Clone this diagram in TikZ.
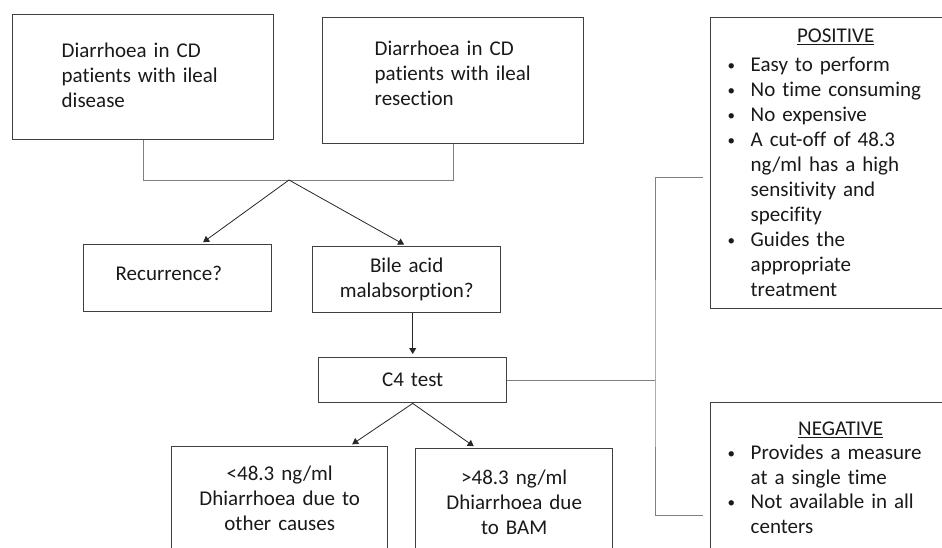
\documentclass[tikz,border=0pt]{standalone}
\usepackage{fontspec}
\setmainfont{Carlito}[Ligatures=NoCommon]
\usetikzlibrary{arrows.meta}
\newcommand{\bul}{\makebox[23pt][l]{\raisebox{1.5pt}{\fontsize{15pt}{15pt}\selectfont\textbullet}}}
\newcommand{\ind}{\hspace*{23pt}}

\begin{document}
\begin{tikzpicture}[x=1pt,y=-1pt,
  box/.style={draw=black!75,line width=1.4pt,inner ysep=0pt,anchor=north west,text=black!90,font=\fontsize{21pt}{25pt}\selectfont},
  conn/.style={draw=black!50,line width=0.8pt},
  arr/.style={draw=black!85,line width=0.8pt,-{Triangle[width=7pt,length=6pt]},shorten >=3pt}]
  \clip (0,0) rectangle (942,547);
  %top
  \node[box,minimum width=261pt,minimum height=125pt,text width=163pt,inner xsep=49pt,align=left,text height=15pt,text depth=55pt] (ill) at (12,14) {Diarrhoea in CD\\patients with ileal\\disease};
  \node[box,minimum width=261pt,minimum height=126pt,text width=157pt,inner xsep=52pt,align=left,text height=15pt,text depth=65pt] (res) at (322,17) {Diarrhoea in CD\\patients with ileal\\resection};
  \coordinate (top) at (289,180);
  \draw[conn] (ill.south) |- (res.south |- top) -- (res.south);
  %middle
  \node[box,minimum width=188pt,minimum height=67pt,text width=124pt,inner xsep=32pt,align=left,text height=15pt,text depth=10pt] (rec) at (83,244) {Recurrence?};
  \node[box,minimum width=188pt,minimum height=66pt,text width=170pt,inner xsep=9pt,align=center] (bam) at (312,246) {Bile acid\\malabsorption?};
  \draw[arr] (top) -- ([xshift=23pt]rec.north);
  \draw[arr] (top) -- (bam.north);
  \node[box,minimum width=188pt,minimum height=45pt,text width=170pt,inner xsep=9pt,align=center] (c4) at (318,357) {C4 test};
  \draw[arr] (c4.north |- bam.south) -- (c4.north);
  %bottom
  \node[box,minimum width=216pt,minimum height=104pt,text width=190pt,inner xsep=13pt,align=center] (low) at (171,446) {<48.3 ng/ml\\Dhiarrhoea due to\\other causes};
  \node[box,minimum width=197pt,minimum height=108pt,text width=177pt,inner xsep=10pt,align=center] (high) at (415,448) {>48.3 ng/ml\\Dhiarrhoea due\\to BAM};
  \draw[arr] (c4.south) -- ([xshift=70pt]low.north);
  \draw[arr] (c4.south) -- ([xshift=-38pt]high.north);
  %right
  \node[box,minimum width=250pt,minimum height=291pt,text width=216pt,inner xsep=17pt,align=left] (pos) at (710,17) {\makebox[216pt]{\underline{POSITIVE}}\\[4pt]
    \bul Easy to perform\\
    \bul No time consuming\\
    \bul No expensive\\
    \bul A cut-off of 48.3\\
    \ind ng/ml has a high\\
    \ind sensitivity and\\
    \ind specifity\\
    \bul Guides the\\
    \ind appropriate\\
    \ind treatment};
  \node[box,minimum width=250pt,minimum height=150pt,text width=216pt,inner xsep=17pt,align=left,font=\fontsize{21pt}{24.5pt}\selectfont] (neg) at (710,402) {\makebox[226pt]{\underline{NEGATIVE}}\\
    \bul Provides a measure\\
    \ind at a single time\\
    \bul Not available in all\\
    \ind centers};
  \coordinate (spine) at (c4.east -| 655,0);
  \coordinate (pt) at (703,177);
  \coordinate (nt) at (703,515);
  \draw[conn] (c4.east) -- (spine);
  \draw[conn] (pt) -| (spine) |- (nt);
\end{tikzpicture}
\end{document}
